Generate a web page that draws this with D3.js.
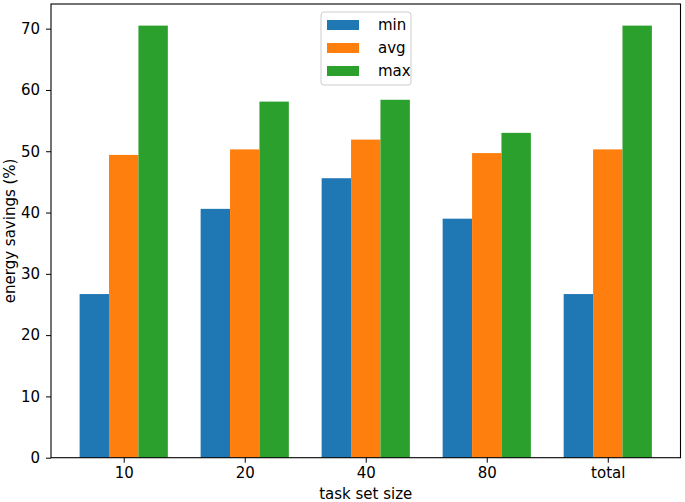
<!DOCTYPE html>
<html lang="en">
<head>
    <meta charset="UTF-8">
    <script src="https://d3js.org/d3.v7.min.js"></script>
    <title>Energy savings</title>
    <style>
        body { margin: 0; background: white; }
        text { font-family: "DejaVu Sans", sans-serif; fill: #000; }
    </style>
</head>
<body>
    <script>
        // ---------- data ----------
        const categories = ["10", "20", "40", "80", "total"];
        const seriesNames = ["min", "avg", "max"];
        const minValues = [26.7, 40.6, 45.6, 39.0, 26.7];
        const avgValues = [49.4, 50.3, 51.9, 49.7, 50.3];
        const maxValues = [70.5, 58.1, 58.4, 53.0, 70.5];
        const yTicks = [0, 10, 20, 30, 40, 50, 60, 70];
        const colors = ["#1f77b4", "#ff7f0e", "#2ca02c"];

        const series = [minValues, avgValues, maxValues];

        // ---------- layout ----------
        const width = 685, height = 502;
        const plot = { left: 51, right: 680.5, top: 4, bottom: 457.7 };
        const barW = 0.243;
        const fontSize = "15px";

        const svg = d3.select("body").append("svg")
            .attr("width", width)
            .attr("height", height);

        // x in "category units", like matplotlib
        const dataMin = -1.5 * barW, dataMax = categories.length - 1 + 1.5 * barW;
        const pad = (dataMax - dataMin) * 0.05;
        const x = d3.scaleLinear()
            .domain([dataMin - pad, dataMax + pad])
            .range([plot.left, plot.right]);

        const yMax = d3.max(series.flat()) * 1.05;
        const y = d3.scaleLinear()
            .domain([0, yMax])
            .range([plot.bottom, plot.top]);

        // bars
        series.forEach((vals, s) => {
            svg.append("g")
                .selectAll("rect")
                .data(vals)
                .enter()
                .append("rect")
                .attr("x", (d, i) => x(i + (s - 1) * barW - barW / 2))
                .attr("width", x(barW) - x(0))
                .attr("y", d => y(d))
                .attr("height", d => y(0) - y(d))
                .attr("fill", colors[s]);
        });

        // axes
        const xAxis = d3.axisBottom(x)
            .tickValues(d3.range(categories.length))
            .tickFormat(i => categories[i])
            .tickSize(5)
            .tickPadding(5);
        const gx = svg.append("g")
            .attr("transform", `translate(0,${plot.bottom})`)
            .call(xAxis);

        const yAxis = d3.axisLeft(y)
            .tickValues(yTicks)
            .tickSize(5)
            .tickPadding(6);
        const gy = svg.append("g")
            .attr("transform", `translate(${plot.left},0)`)
            .call(yAxis);

        [gx, gy].forEach(g => {
            g.select(".domain").remove();
            g.selectAll(".tick line").attr("stroke", "#000").attr("stroke-width", 1);
            g.selectAll(".tick text").style("font-size", fontSize)
                .style("font-family", "DejaVu Sans, sans-serif");
        });

        // frame
        svg.append("rect")
            .attr("x", plot.left)
            .attr("y", plot.top)
            .attr("width", plot.right - plot.left)
            .attr("height", plot.bottom - plot.top)
            .attr("fill", "none")
            .attr("stroke", "#000")
            .attr("stroke-width", 1.1);

        // axis labels
        svg.append("text")
            .attr("x", (plot.left + plot.right) / 2)
            .attr("y", 499)
            .attr("text-anchor", "middle")
            .style("font-size", fontSize)
            .text("task set size");

        svg.append("text")
            .attr("transform", `translate(15,${(plot.top + plot.bottom) / 2}) rotate(-90)`)
            .attr("text-anchor", "middle")
            .style("font-size", fontSize)
            .text("energy savings (%)");

        // legend
        const lg = svg.append("g")
            .attr("transform", `translate(321,12)`);
        lg.append("rect")
            .attr("width", 90)
            .attr("height", 73)
            .attr("rx", 3)
            .attr("fill", "white")
            .attr("fill-opacity", 0.8)
            .attr("stroke", "#ccc");
        seriesNames.forEach((name, i) => {
            const row = lg.append("g").attr("transform", `translate(6,${13 + i * 23})`);
            row.append("rect")
                .attr("x", 0).attr("y", -5)
                .attr("width", 32).attr("height", 10)
                .attr("fill", colors[i]);
            row.append("text")
                .attr("x", 51)
                .attr("y", 5)
                .style("font-size", fontSize)
                .text(name);
        });
    </script>
</body>
</html>
